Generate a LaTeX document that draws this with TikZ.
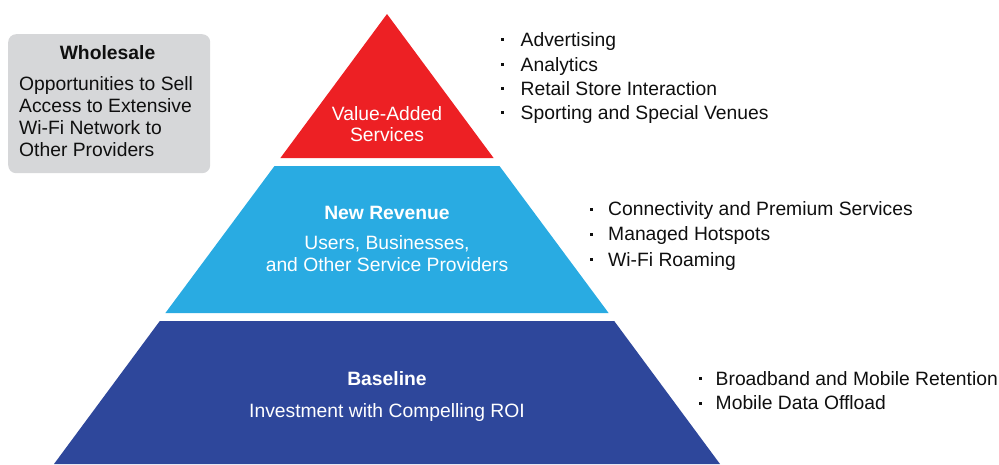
\documentclass[tikz,border=0pt]{standalone}
\usepackage{fontspec}
\setmainfont{Liberation Sans}
\definecolor{vared}{RGB}{237,32,36}
\definecolor{nrblue}{RGB}{41,171,226}
\definecolor{blnavy}{RGB}{46,71,155}
\definecolor{wsgray}{RGB}{214,215,217}
\definecolor{txt}{RGB}{15,15,15}
\begin{document}
\begin{tikzpicture}[x=1pt,y=-1pt,
  lbl/.style={inner sep=0pt,font=\fontsize{19.3}{23}\selectfont},
  wlbl/.style={lbl,text=white,anchor=base},
  blbl/.style={lbl,text=txt,anchor=base west},
  bul/.style={fill=txt,minimum size=3pt,inner sep=0pt},
  tier/.style={draw=none}]
\useasboundingbox (0,0) rectangle (999,464);
% pyramid tiers (centre x=387, apex y=14, slope 0.74)
\fill[vared] (387,14) -- (493.6,158) -- (280.4,158) -- cycle;
\fill[nrblue] (499.5,166) -- (608.6,313) -- (165.4,313) -- (274.5,166) -- cycle;
\fill[blnavy] (614.2,321) -- (720,464) -- (54,464) -- (159.8,321) -- cycle;
% wholesale box
\node[fill=wsgray,rounded corners=8pt,minimum width=202pt,minimum height=139pt,anchor=north west] (ws) at (8,34) {};
\node[lbl,anchor=base,font=\fontsize{19.3}{23}\selectfont\bfseries,text=txt] (wst) at (107.5,59) {Wholesale};
\node[blbl] (ws1) at (19,90.7) {Opportunities to Sell};
\node[blbl] (ws2) at (19,112.7) {Access to Extensive};
\node[blbl] (ws3) at (19,134.7) {Wi-Fi Network to};
\node[blbl] (ws4) at (19,156.7) {Other Providers};
% tier labels
\node[wlbl] (va1) at (387,120) {Value-Added};
\node[wlbl] (va2) at (387,141.7) {Services};
\node[wlbl,font=\fontsize{19.3}{23}\selectfont\bfseries] (nr1) at (387,219) {New Revenue};
\node[wlbl] (nr2) at (387,249.3) {Users, Businesses,};
\node[wlbl] (nr3) at (387,271.7) {and Other Service Providers};
\node[wlbl,font=\fontsize{19.3}{23}\selectfont\bfseries] (bl1) at (387,385.7) {Baseline};
\node[wlbl] (bl2) at (387,417.3) {Investment with Compelling ROI};
% bullet lists
\foreach \t/\yy [count=\i] in {Advertising/46,Analytics/71,Retail Store Interaction/95,Sporting and Special Venues/119}{
  \node[bul] (ra\i) at (502.5,\yy-6.5) {};
  \node[blbl] (rt\i) at (520.5,\yy) {\t};
}
\foreach \t/\yy [count=\i] in {Connectivity and Premium Services/215.7,Managed Hotspots/240.7,Wi-Fi Roaming/266}{
  \node[bul] (ba\i) at (591.5,\yy-6.5) {};
  \node[blbl] (bt\i) at (608,\yy) {\t};
}
\foreach \t/\yy [count=\i] in {Broadband and Mobile Retention/385,Mobile Data Offload/409.5}{
  \node[bul] (na\i) at (700,\yy-6.5) {};
  \node[blbl] (nt\i) at (715.5,\yy) {\t};
}
\end{tikzpicture}
\end{document}
